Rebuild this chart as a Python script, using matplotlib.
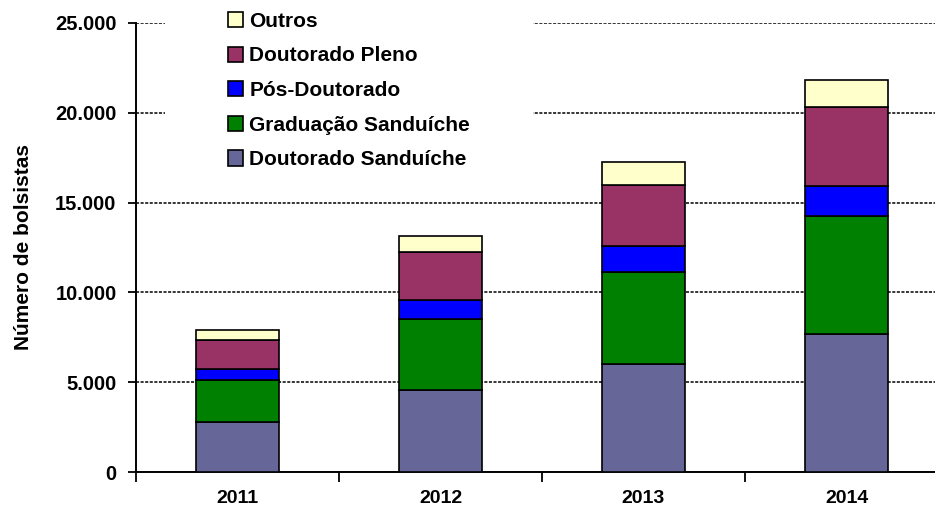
import matplotlib
matplotlib.use("Agg")
import matplotlib.pyplot as plt
from matplotlib.patches import Rectangle
from matplotlib.ticker import FuncFormatter
import numpy as np

plt.rcParams["font.family"] = ["Liberation Sans", "DejaVu Sans"]
plt.rcParams["font.weight"] = "bold"

years = ["2011", "2012", "2013", "2014"]
doutorado_sanduiche = [2800, 4560, 6040, 7710]
graduacao_sanduiche = [2310, 3980, 5090, 6530]
pos_doutorado = [650, 1020, 1450, 1670]
doutorado_pleno = [1570, 2680, 3420, 4440]
outros = [600, 910, 1260, 1470]

series = [
    ("Doutorado Sanduíche", doutorado_sanduiche, "#666699"),
    ("Graduação Sanduíche", graduacao_sanduiche, "#008000"),
    ("Pós-Doutorado", pos_doutorado, "#0000FF"),
    ("Doutorado Pleno", doutorado_pleno, "#993366"),
    ("Outros", outros, "#FFFFCC"),
]

fig = plt.figure(figsize=(9.35, 5.15), dpi=100)
# axis runs a bit past the right edge, as in the original
ax = fig.add_axes([136 / 935, 43 / 515, 812 / 935, 449 / 515])

x = np.arange(len(years))
bottom = np.zeros(len(years))
handles = []
for name, vals, color in series:
    b = ax.bar(x, vals, width=0.405, bottom=bottom, color=color,
               edgecolor="black", linewidth=1.2, label=name, zorder=3)
    handles.append(b)
    bottom += np.array(vals)

ax.set_xlim(-0.5, len(years) - 0.5)
ax.set_ylim(0, 25000)
ax.set_yticks(np.arange(0, 25001, 5000))
ax.yaxis.set_major_formatter(FuncFormatter(lambda v, p: f"{int(v):,}".replace(",", ".")))

# boundary ticks on x, labels at category centres
ax.set_xticks(np.arange(-0.5, len(years), 1.0))
ax.set_xticklabels([])
ax.set_xticks(x, minor=True)
ax.set_xticklabels(years, minor=True)
ax.tick_params(axis="x", which="major", direction="out", length=7, width=1.3)
ax.tick_params(axis="x", which="minor", length=0, pad=13, labelsize=14)
ax.tick_params(axis="y", direction="out", length=6, width=1.3, pad=8, labelsize=14.5)

ax.grid(axis="y", color="black", linestyle=(0, (2, 1)), linewidth=1.1, zorder=0)
ax.set_axisbelow(True)
for sp in ["top", "right"]:
    ax.spines[sp].set_visible(False)
for sp in ["left", "bottom"]:
    ax.spines[sp].set_linewidth(1.4)

ax.set_ylabel("Número de bolsistas", fontsize=15, fontweight="bold", labelpad=16)

# white block behind the legend hides the gridlines there
ax.add_patch(Rectangle((0.036, 0.64), 0.453, 0.4, transform=ax.transAxes,
                       facecolor="white", edgecolor="none", zorder=1, clip_on=False))

leg = ax.legend(handles[::-1], [s[0] for s in series][::-1],
                loc="upper left", bbox_to_anchor=(0.1, 1.048),
                frameon=False, fontsize=15, handlelength=0.75, handleheight=0.75,
                handletextpad=0.3, labelspacing=0.75, borderpad=0)
for t in leg.get_texts():
    t.set_fontweight("bold")

fig.savefig("out.png", dpi=100)
